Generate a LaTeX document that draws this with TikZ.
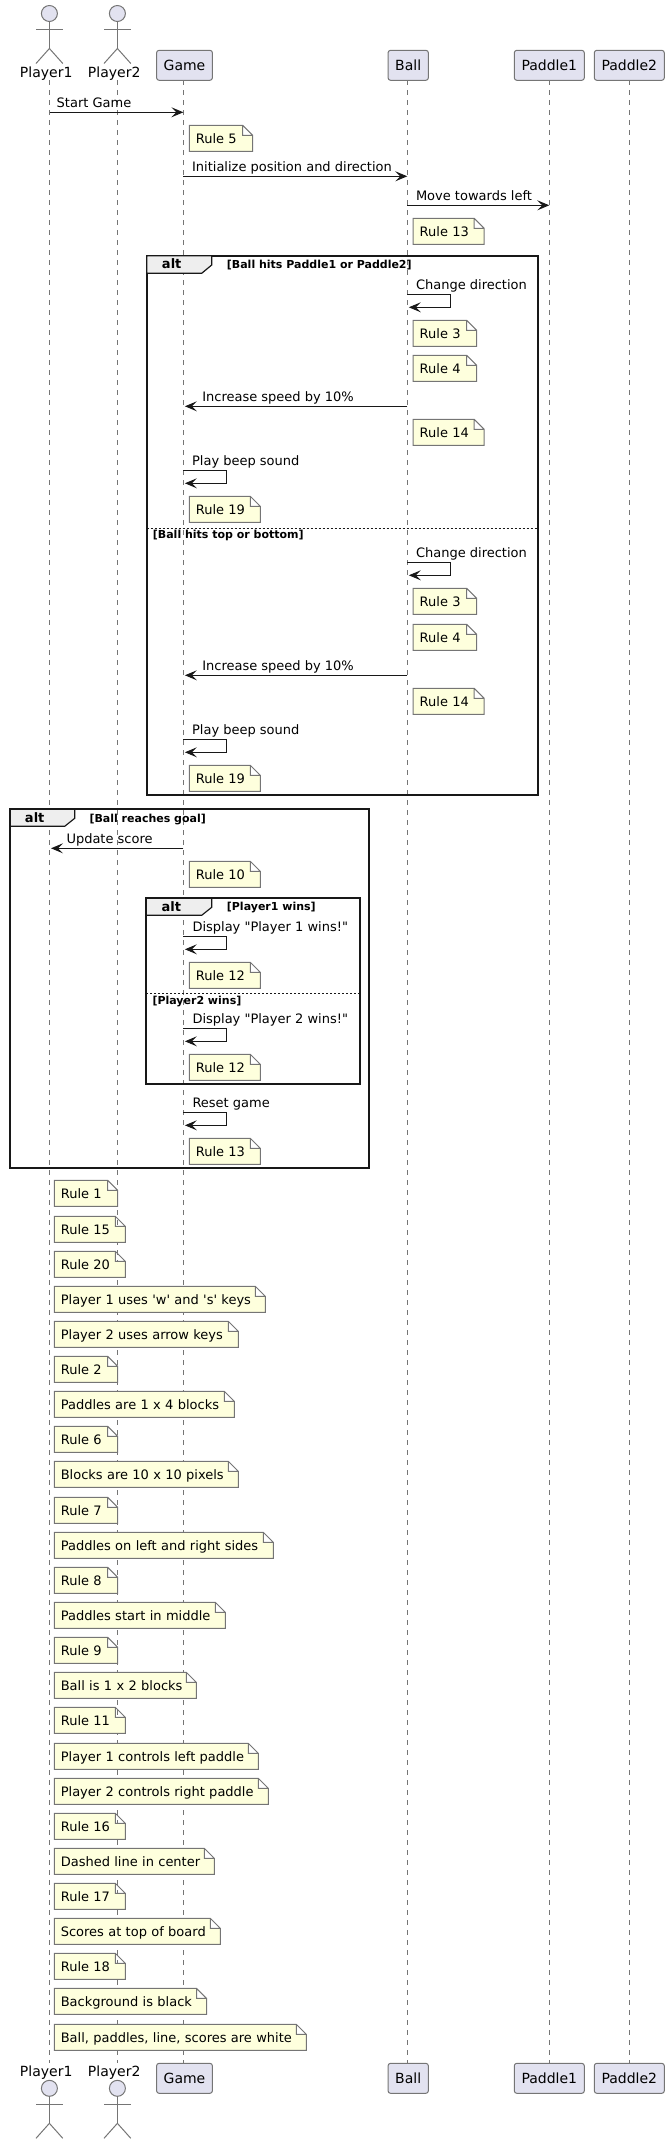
\documentclass[tikz,border=0pt]{standalone}
\usepackage{fontspec}
\setmainfont{DejaVu Sans}[Ligatures=TeXOff]
\usetikzlibrary{arrows.meta}
\definecolor{boxfill}{HTML}{E2E2F0}
\definecolor{notefill}{HTML}{FEFFDD}
\definecolor{tabfill}{HTML}{EEEEEE}
\definecolor{inkline}{HTML}{181818}
\definecolor{softline}{HTML}{757575}
\makeatletter
\pgfdeclareshape{foldnote}{
  \inheritsavedanchors[from=rectangle]
  \inheritanchorborder[from=rectangle]
  \inheritanchor[from=rectangle]{center}
  \inheritanchor[from=rectangle]{north west}
  \inheritanchor[from=rectangle]{south east}
  \backgroundpath{
    \southwest \pgf@xa=\pgf@x \pgf@ya=\pgf@y
    \northeast \pgf@xb=\pgf@x \pgf@yb=\pgf@y
    \pgfpathmoveto{\pgfqpoint{\pgf@xa}{\pgf@ya}}
    \pgfpathlineto{\pgfqpoint{\pgf@xa}{\pgf@yb}}
    \pgfpathlineto{\pgfpoint{\pgf@xb-10pt}{\pgf@yb}}
    \pgfpathlineto{\pgfpoint{\pgf@xb}{\pgf@yb-10pt}}
    \pgfpathlineto{\pgfqpoint{\pgf@xb}{\pgf@ya}}
    \pgfpathclose
    \pgfpathmoveto{\pgfpoint{\pgf@xb-10pt}{\pgf@yb}}
    \pgfpathlineto{\pgfpoint{\pgf@xb-10pt}{\pgf@yb-10pt}}
    \pgfpathlineto{\pgfpoint{\pgf@xb}{\pgf@yb-10pt}}
  }
}
\makeatother
\tikzstyle{party} = [rectangle, rounded corners=2.5pt, draw=softline, line width=1pt, fill=boxfill, minimum height=30pt, inner sep=0pt, text height=10pt, text depth=0pt, font=\fontsize{14}{16}\selectfont]
\tikzstyle{actorname} = [anchor=base, inner sep=0pt, font=\fontsize{14}{16}\selectfont]
\tikzstyle{actorhead} = [circle, draw=softline, line width=1pt, fill=boxfill, minimum size=16pt, inner sep=0pt]
\tikzstyle{actorline} = [draw=softline, line width=1pt]
\tikzstyle{lifeline} = [draw=softline, line width=0.8pt, dash pattern=on 5pt off 5pt]
\tikzstyle{note} = [shape=foldnote, anchor=north west, draw=softline, line width=1pt, fill=notefill, align=left, inner xsep=6pt, inner ysep=6.5pt, text height=11pt, text depth=1pt, font=\fontsize{13}{15}\selectfont]
\tikzstyle{rulenote} = [note, text width=50.4pt]
\tikzstyle{widenote} = [note, text width=58pt]
\tikzstyle{msg} = [anchor=base west, inner sep=0pt, font=\fontsize{13}{15}\selectfont]
\tikzstyle{arrow} = [draw=inkline, line width=1pt, -{Stealth[length=12pt, width=10pt, inset=5pt]}]
\tikzstyle{altframe} = [rectangle, anchor=north west, draw=inkline, line width=1.8pt, outer sep=0pt]
\tikzstyle{alttab} = [draw=inkline, line width=1.2pt, fill=tabfill]
\tikzstyle{altname} = [anchor=base, inner sep=0pt, font=\fontsize{13}{15}\selectfont\bfseries]
\tikzstyle{guard} = [anchor=base west, inner sep=0pt, font=\fontsize{11}{13}\selectfont\bfseries]
\tikzstyle{divider} = [draw=inkline, line width=1pt, dash pattern=on 2pt off 2pt]
\tikzset{pics/stickman/.style={code={
  \node (-head) [actorhead] at (0,0) {};
  \draw [actorline] (-head.south) -- (0,35);
  \draw [actorline] (-13.4,16) -- (13.4,16);
  \draw [actorline] (-13.4,50) -- (0,35) -- (13.4,50);
}}}

\begin{document}
\begin{tikzpicture}[x=1pt, y=-1pt]
\useasboundingbox (0,0) rectangle (669,2144);

% lifelines
\coordinate (topA) at (49.5,80.3);
\coordinate (topB) at (117.5,80.3);
\coordinate (topGame) at (183.4,80.3);
\coordinate (topBall) at (407.3,80.3);
\coordinate (topPad1) at (549.3,80.3);
\coordinate (topPad2) at (629.3,80.3);
\coordinate (botA) at (49.5,2063.3);
\coordinate (botB) at (117.5,2063.3);
\coordinate (botGame) at (183.4,2063.3);
\coordinate (botBall) at (407.3,2063.3);
\coordinate (botPad1) at (549.3,2063.3);
\coordinate (botPad2) at (629.3,2063.3);
\draw [lifeline] (topA) -- (botA);
\draw [lifeline] (topB) -- (botB);
\draw [lifeline] (topGame) -- (botGame);
\draw [lifeline] (topBall) -- (botBall);
\draw [lifeline] (topPad1) -- (botPad1);
\draw [lifeline] (topPad2) -- (botPad2);

% participants
\pic (manA) at (49.4,13.5) {stickman};
\pic (manB) at (117.4,13.5) {stickman};
\node (nameA) [actorname] at (46.2,77.7) {Player1};
\node (nameB) [actorname] at (114.2,77.7) {Player2};
\node (game) [party, minimum width=55.8pt] at (184.5,65.3) {Game};
\node (ball) [party, minimum width=40.3pt] at (408.2,65.3) {Ball};
\node (pad1) [party, minimum width=70pt] at (549.3,65.3) {Paddle1};
\node (pad2) [party, minimum width=70pt] at (629.3,65.3) {Paddle2};

\pic (manC) at (49.4,2088.3) {stickman};
\pic (manD) at (117.4,2088.3) {stickman};
\node (nameC) [actorname] at (46.2,2076) {Player1};
\node (nameD) [actorname] at (114.2,2076) {Player2};
\node (gameb) [party, minimum width=55.8pt] at (184.5,2078.3) {Game};
\node (ballb) [party, minimum width=40.3pt] at (408.2,2078.3) {Ball};
\node (pad1b) [party, minimum width=70pt] at (549.3,2078.3) {Paddle1};
\node (pad2b) [party, minimum width=70pt] at (629.3,2078.3) {Paddle2};

% alt frames
\node (hitframe) [altframe, minimum width=391.5pt, minimum height=539.6pt] at (146.7,255.7) {};
\draw [alttab] (hitframe.north west) -- (211.7,255.7) -- (211.7,265) -- (201.7,273.3) -- (146.7,273.3) -- cycle;
\node (hitalt) [altname] at (171.7,268.5) {alt};
\node (hitguard) [guard] at (226.7,268) {[Ball hits Paddle1 or Paddle2]};
\coordinate (hitdivA) at (146.7,528.3);
\coordinate (hitdivB) at (538.2,528.3);
\draw [divider] (hitdivA) -- (hitdivB);
\node (edgeguard) [guard] at (152.7,538.3) {[Ball hits top or bottom]};

\node (goalframe) [altframe, minimum width=359pt, minimum height=359pt] at (10.3,809.3) {};
\draw [alttab] (goalframe.north west) -- (74.7,809.3) -- (74.7,818.3) -- (64.7,826.3) -- (10.3,826.3) -- cycle;
\node (goalalt) [altname] at (34.7,822.3) {alt};
\node (goalguard) [guard] at (89.3,822) {[Ball reaches goal]};

\node (winframe) [altframe, minimum width=213.4pt, minimum height=186pt] at (146.3,898.3) {};
\draw [alttab] (winframe.north west) -- (211.7,898.3) -- (211.7,907.3) -- (201.7,915.3) -- (146.3,915.3) -- cycle;
\node (winalt) [altname] at (171.3,911.3) {alt};
\node (winguard) [guard] at (226.7,910.3) {[Player1 wins]};
\coordinate (windivA) at (146.3,993.3);
\coordinate (windivB) at (359.7,993.3);
\draw [divider] (windivA) -- (windivB);
\node (winguardb) [guard] at (152.3,1004) {[Player2 wins]};

% messages
\coordinate (startA) at (49.5,112.3);
\coordinate (startB) at (183.4,112.3);
\node (startmsg) [msg] at (56.5,107.3) {Start Game};
\draw [arrow] (startA) -- (startB);

\node (n5) [rulenote] at (189.3,125.3) {Rule 5};

\coordinate (initA) at (183.4,176.3);
\coordinate (initB) at (407.3,176.3);
\node (initmsg) [msg] at (191.9,171.3) {Initialize position and direction};
\draw [arrow] (initA) -- (initB);

\coordinate (moveA) at (407.3,205.3);
\coordinate (moveB) at (549.3,205.3);
\node (movemsg) [msg] at (415.8,200.3) {Move towards left};
\draw [arrow] (moveA) -- (moveB);

\node (n13) [widenote] at (413.2,218.3) {Rule 13};

\coordinate (chgA) at (407.3,294.3);
\coordinate (chgB) at (408.8,307.3);
\node (chgmsg) [msg] at (415.8,289.3) {Change direction};
\draw [arrow] (chgA) -- ++(43,0) |- (chgB);

\node (n3) [rulenote] at (413.2,320.3) {Rule 3};
\node (n4) [rulenote] at (413.2,355.3) {Rule 4};

\coordinate (incA) at (407.3,406.3);
\coordinate (incB) at (184.9,406.3);
\node (incmsg) [msg] at (202.1,401.3) {Increase speed by 10\%};
\draw [arrow] (incA) -- (incB);

\node (n14) [widenote] at (413.2,419.3) {Rule 14};

\coordinate (beepA) at (183.4,470.3);
\coordinate (beepB) at (184.9,483.3);
\node (beepmsg) [msg] at (191.9,465.3) {Play beep sound};
\draw [arrow] (beepA) -- ++(43,0) |- (beepB);

\node (n19) [widenote] at (189.3,496.3) {Rule 19};

\coordinate (chgC) at (407.3,562.3);
\coordinate (chgD) at (408.8,575.3);
\node (chgmsgb) [msg] at (415.8,557.3) {Change direction};
\draw [arrow] (chgC) -- ++(43,0) |- (chgD);

\node (n3b) [rulenote] at (413.2,588.3) {Rule 3};
\node (n4b) [rulenote] at (413.2,624.3) {Rule 4};

\coordinate (incC) at (407.3,675.3);
\coordinate (incD) at (184.9,675.3);
\node (incmsgb) [msg] at (202.1,670.3) {Increase speed by 10\%};
\draw [arrow] (incC) -- (incD);

\node (n14b) [widenote] at (413.2,688.3) {Rule 14};

\coordinate (beepC) at (183.4,739.3);
\coordinate (beepD) at (184.9,752.3);
\node (beepmsgb) [msg] at (191.9,734.3) {Play beep sound};
\draw [arrow] (beepC) -- ++(43,0) |- (beepD);

\node (n19b) [widenote] at (189.3,765.3) {Rule 19};

\coordinate (scoreA) at (183.4,848.3);
\coordinate (scoreB) at (51,848.3);
\node (scoremsg) [msg] at (66.3,843.3) {Update score};
\draw [arrow] (scoreA) -- (scoreB);

\node (n10) [widenote] at (189.3,861.3) {Rule 10};

\coordinate (showA) at (183.4,936.3);
\coordinate (showB) at (184.9,949.3);
\node (showmsg) [msg] at (192.3,931.3) {Display "Player 1 wins!"};
\draw [arrow] (showA) -- ++(43,0) |- (showB);

\node (n12) [widenote] at (189.3,962.3) {Rule 12};

\coordinate (showC) at (183.4,1028.3);
\coordinate (showD) at (184.9,1041.3);
\node (showmsgb) [msg] at (192.3,1023.3) {Display "Player 2 wins!"};
\draw [arrow] (showC) -- ++(43,0) |- (showD);

\node (n12b) [widenote] at (189.3,1054.3) {Rule 12};

\coordinate (resetA) at (183.4,1112.3);
\coordinate (resetB) at (184.9,1125.3);
\node (resetmsg) [msg] at (192.3,1107.3) {Reset game};
\draw [arrow] (resetA) -- ++(43,0) |- (resetB);

\node (n13b) [widenote] at (189.3,1138.3) {Rule 13};

% notes below the frames
\node (n1) [rulenote] at (54.3,1180.3) {Rule 1};
\node (n15) [widenote] at (54.3,1216.3) {Rule 15};
\node (n20) [widenote] at (54.3,1251.3) {Rule 20};
\node (keysA) [note, text width=198pt] at (54.3,1286.3) {Player 1 uses 'w' and 's' keys};
\node (keysB) [note, text width=171pt] at (54.3,1321.3) {Player 2 uses arrow keys};
\node (n2) [rulenote] at (54.3,1356.3) {Rule 2};
\node (sizepad) [note, text width=167pt] at (54.3,1391.3) {Paddles are 1 x 4 blocks};
\node (n6) [rulenote] at (54.3,1426.3) {Rule 6};
\node (sizeblock) [note, text width=171pt] at (54.3,1461.3) {Blocks are 10 x 10 pixels};
\node (n7) [rulenote] at (54.3,1497.3) {Rule 7};
\node (sides) [note, text width=206pt] at (54.3,1532.3) {Paddles on left and right sides};
\node (n8) [rulenote] at (54.3,1567.3) {Rule 8};
\node (middle) [note, text width=158pt] at (54.3,1602.3) {Paddles start in middle};
\node (n9) [rulenote] at (54.3,1637.3) {Rule 9};
\node (sizeball) [note, text width=129pt] at (54.3,1672.3) {Ball is 1 x 2 blocks};
\node (n11) [widenote] at (54.3,1707.3) {Rule 11};
\node (ctrlA) [note, text width=191pt] at (54.3,1743.3) {Player 1 controls left paddle};
\node (ctrlB) [note, text width=201pt] at (54.3,1778.3) {Player 2 controls right paddle};
\node (n16) [widenote] at (54.3,1813.3) {Rule 16};
\node (center) [note, text width=147pt] at (54.3,1848.3) {Dashed line in center};
\node (n17) [widenote] at (54.3,1883.3) {Rule 17};
\node (scores) [note, text width=153pt] at (54.3,1918.3) {Scores at top of board};
\node (n18) [widenote] at (54.3,1953.3) {Rule 18};
\node (black) [note, text width=139.2pt] at (54.3,1988.3) {Background is black};
\node (white) [note, text width=239pt] at (54.3,2024.3) {Ball, paddles, line, scores are white};

\end{tikzpicture}
\end{document}
